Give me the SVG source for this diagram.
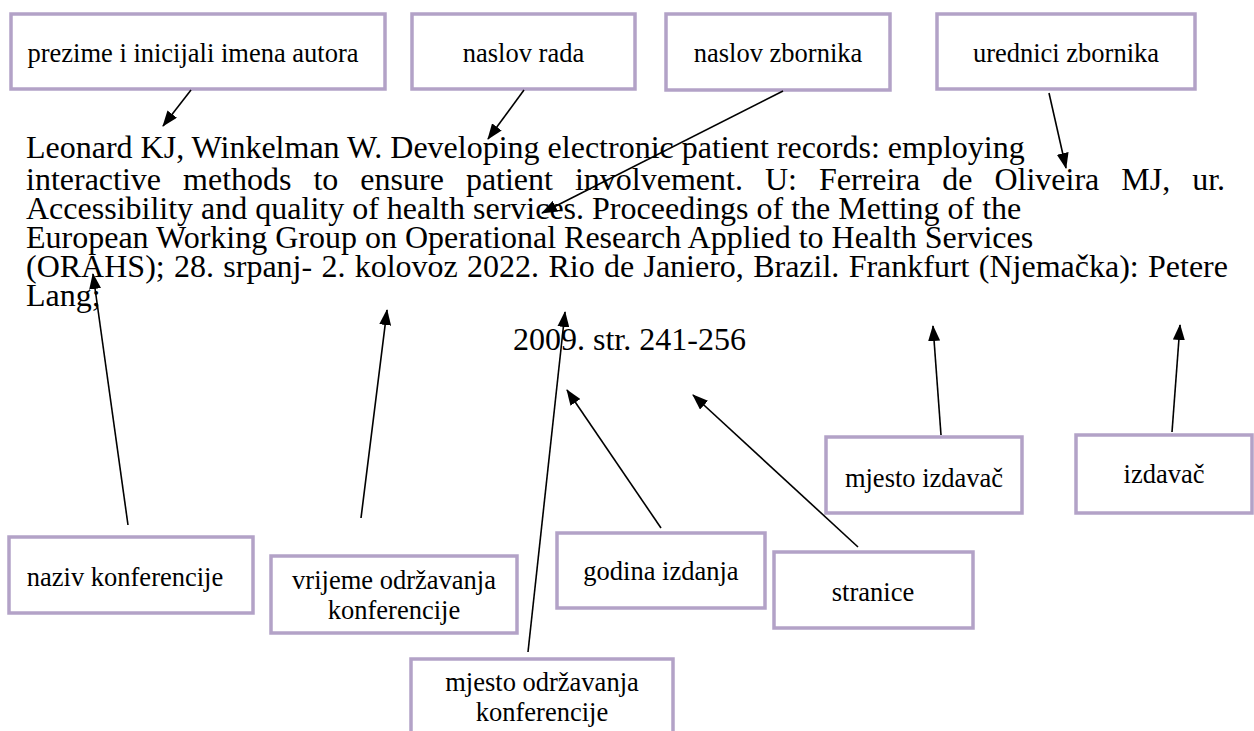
<svg xmlns="http://www.w3.org/2000/svg" width="1254" height="731" viewBox="0 0 1254 731">
<style>
.box{fill:#ffffff;stroke:#b3a2c7;stroke-width:3.5}
.lbl{font-family:"Liberation Serif","Times New Roman",serif;font-size:26.5px;fill:#000;text-anchor:middle}
.main{font-family:"Liberation Serif","Times New Roman",serif;font-size:32px;fill:#000}
.conn line{stroke:#000;stroke-width:1.6;marker-end:url(#ah)}
</style>
<defs>
<marker id="ah" markerUnits="userSpaceOnUse" markerWidth="16" markerHeight="12" refX="15" refY="6" orient="auto">
<path d="M0,0 L16,6 L0,12 Z" fill="#000"/>
</marker>
</defs>
<rect width="1254" height="731" fill="#fff"/>

<g id="citation">
<text class="main" x="26" y="158">Leonard KJ, Winkelman W. Developing electronic patient records: employing</text>
<text class="main" x="26" y="190" word-spacing="14">interactive methods to ensure patient involvement. U: Ferreira de Oliveira MJ, ur.</text>
<text class="main" x="26" y="219">Accessibility and quality of health services. Proceedings of the Metting of the</text>
<text class="main" x="26" y="248">European Working Group on Operational Research Applied to Health Services</text>
<text class="main" x="26" y="277" word-spacing="1.3">(ORAHS); 28. srpanj- 2. kolovoz 2022. Rio de Janiero, Brazil. Frankfurt (Njemačka): Petere</text>
<text class="main" x="26" y="306">Lang;</text>
<text class="main" x="513" y="350">2009. str. 241-256</text>
</g>

<g id="n-autor"><rect class="box" x="11" y="14" width="374" height="75"/><text class="lbl" x="193" y="62">prezime i inicijali imena autora</text></g>
<g id="n-naslov-rada"><rect class="box" x="412" y="14" width="223" height="75"/><text class="lbl" x="523.5" y="62">naslov rada</text></g>
<g id="n-naslov-zbornika"><rect class="box" x="666" y="14" width="224" height="76"/><text class="lbl" x="778" y="62">naslov zbornika</text></g>
<g id="n-urednici"><rect class="box" x="937" y="14" width="258" height="75"/><text class="lbl" x="1066" y="62">urednici zbornika</text></g>

<g id="n-naziv"><rect class="box" x="9" y="537" width="244" height="76"/><text class="lbl" x="125" y="586">naziv konferencije</text></g>
<g id="n-vrijeme"><rect class="box" x="271" y="556" width="246" height="77"/><text class="lbl" x="394" y="589">vrijeme održavanja</text><text class="lbl" x="394" y="619">konferencije</text></g>
<g id="n-godina"><rect class="box" x="557" y="533" width="208" height="75"/><text class="lbl" x="661" y="580">godina izdanja</text></g>
<g id="n-stranice"><rect class="box" x="774" y="552" width="199" height="76"/><text class="lbl" x="873" y="601">stranice</text></g>
<g id="n-mjesto-izdavac"><rect class="box" x="826" y="437" width="196" height="76"/><text class="lbl" x="924" y="487">mjesto izdavač</text></g>
<g id="n-izdavac"><rect class="box" x="1076" y="435" width="176" height="78"/><text class="lbl" x="1164" y="483">izdavač</text></g>
<g id="n-mjesto-odrzavanja"><rect class="box" x="411" y="659" width="262" height="80"/><text class="lbl" x="542" y="691">mjesto održavanja</text><text class="lbl" x="542" y="721">konferencije</text></g>

<g id="connectors" class="conn">
<line x1="191" y1="90" x2="163" y2="126"/>
<line x1="524" y1="90" x2="488" y2="139"/>
<line x1="783" y1="91" x2="542" y2="213"/>
<line x1="1049" y1="93" x2="1066" y2="168"/>
<line x1="128" y1="525" x2="93" y2="274"/>
<line x1="361" y1="518" x2="387" y2="310"/>
<line x1="528" y1="652" x2="565" y2="312"/>
<line x1="661" y1="528" x2="567" y2="390"/>
<line x1="858" y1="547" x2="693" y2="395"/>
<line x1="941" y1="435" x2="933" y2="326"/>
<line x1="1172" y1="432" x2="1180" y2="325"/>
</g>
</svg>
